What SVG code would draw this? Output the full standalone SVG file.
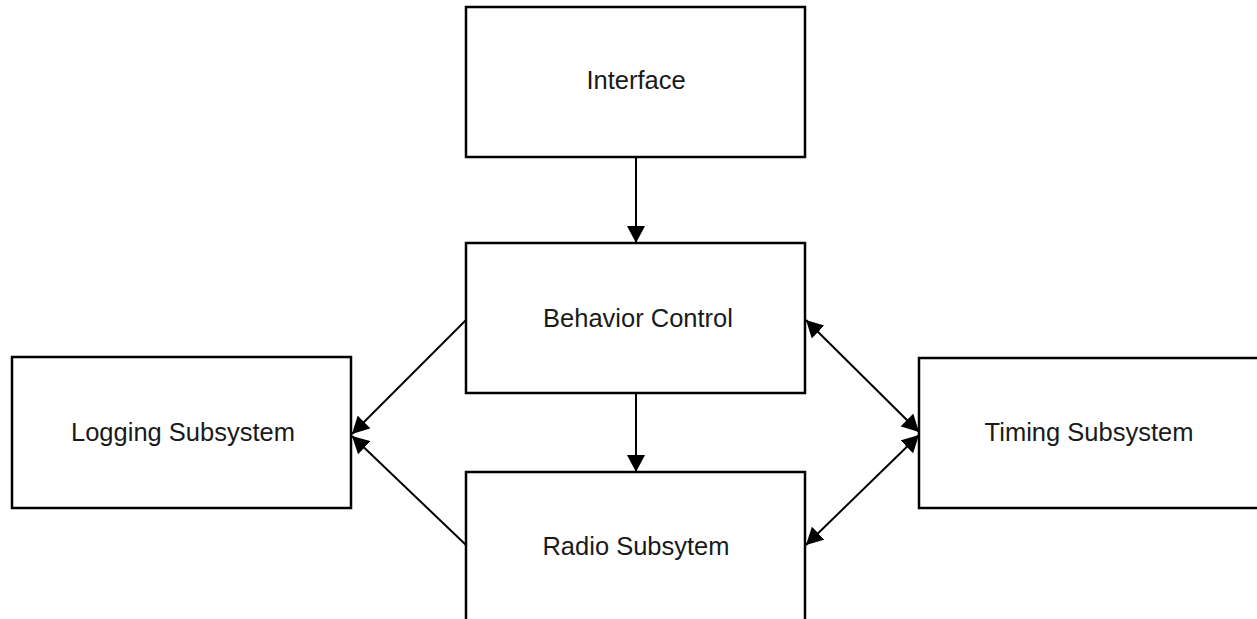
<svg xmlns="http://www.w3.org/2000/svg" width="1257" height="619" viewBox="0 0 1257 619">
  <style>
    .box { fill: #ffffff; stroke: #000000; stroke-width: 2.5; }
    .label { font-family: "Liberation Sans", Arial, sans-serif; font-size: 25.5px; fill: #1a1a1a; text-anchor: middle; dominant-baseline: central; }
    .edge { stroke: #000000; stroke-width: 2; fill: none; }
    .one { marker-end: url(#head); }
    .both { marker-start: url(#head); marker-end: url(#head); }
  </style>
  <defs>
    <marker id="head" markerUnits="userSpaceOnUse" markerWidth="18" markerHeight="18" refX="17" refY="9" orient="auto-start-reverse">
      <path d="M0,0 L17,9 L0,18 Z" fill="#000000"/>
    </marker>
  </defs>
  <rect width="1257" height="619" fill="#ffffff"/>

  <g id="interface">
    <rect class="box" x="466" y="7" width="339" height="150"/>
    <text class="label" x="636" y="80">Interface</text>
  </g>
  <g id="behavior-control">
    <rect class="box" x="466" y="243" width="339" height="150"/>
    <text class="label" x="638" y="318">Behavior Control</text>
  </g>
  <g id="radio-subsystem">
    <rect class="box" x="466" y="472" width="339" height="152"/>
    <text class="label" x="636" y="546">Radio Subsytem</text>
  </g>
  <g id="logging-subsystem">
    <rect class="box" x="12" y="357" width="339" height="151"/>
    <text class="label" x="183" y="432">Logging Subsystem</text>
  </g>
  <g id="timing-subsystem">
    <rect class="box" x="919" y="358" width="341" height="150"/>
    <text class="label" x="1089" y="432">Timing Subsystem</text>
  </g>

  <g id="connectors">
    <line class="edge one" x1="636" y1="157" x2="636" y2="243"/>
    <line class="edge one" x1="636" y1="393" x2="636" y2="472"/>
    <line class="edge one" x1="466" y1="320" x2="352" y2="434"/>
    <line class="edge one" x1="466" y1="545" x2="352" y2="436"/>
    <line class="edge both" x1="806" y1="320" x2="919" y2="432"/>
    <line class="edge both" x1="806" y1="545" x2="919" y2="435"/>
  </g>
</svg>
